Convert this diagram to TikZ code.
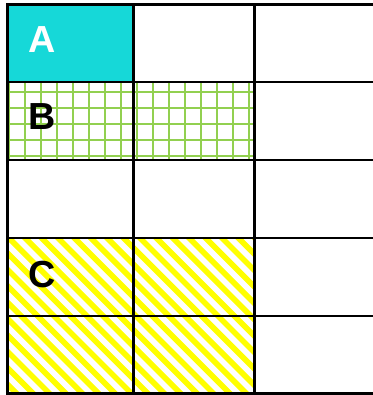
\documentclass[tikz,border=0pt]{standalone}
\usepackage{fontspec}
\setmainfont{Liberation Sans}
\definecolor{cyanA}{RGB}{22,216,216}
\definecolor{gridgreen}{RGB}{146,208,80}
\definecolor{hatchyellow}{RGB}{255,255,0}
\begin{document}
\begin{tikzpicture}[x=1pt,y=-1pt,
  gridline/.style={line width=2.8pt,black},
  greenline/.style={line width=2.3pt,gridgreen},
  yellowline/.style={line width=5.6pt,hatchyellow},
  letter/.style={inner sep=0pt,font=\fontsize{37.7}{40}\selectfont\bfseries}]
\useasboundingbox (0,0) rectangle (372,395);
% cell A
\fill[cyanA] (7.5,4.5) rectangle (133.5,82);
% green grid B
\begin{scope}
  \clip (7.5,82) rectangle (254.5,160);
  \foreach \i in {0,...,15} {\draw[greenline] (8.7+16*\i,82) -- (8.7+16*\i,160);}
  \foreach \j in {0,...,4} {\draw[greenline] (7.5,91.7+16*\j) -- (254.5,91.7+16*\j);}
\end{scope}
% yellow hatch C
\begin{scope}
  \clip (7.5,238) rectangle (254.5,393.3);
  \foreach \k in {-15,...,14} {\draw[yellowline] ({-180+16.4*\k+318+200},518) -- ({-180+16.4*\k+318-200},118);}
\end{scope}
% grid lines
\foreach \xx in {7.5,133.5,254.5} {\draw[gridline] (\xx,4.5) -- (\xx,393.3);}
\foreach \yy in {4.5,82,160,238,316,393.3} {\draw[gridline] (6.1,\yy) -- (380,\yy);}
% letters
\node[letter,white] (a) at (42.5,39.5) {A};
\node[letter] (b) at (42,116.5) {B};
\node[letter] (c) at (42,274.5) {C};
\end{tikzpicture}
\end{document}
